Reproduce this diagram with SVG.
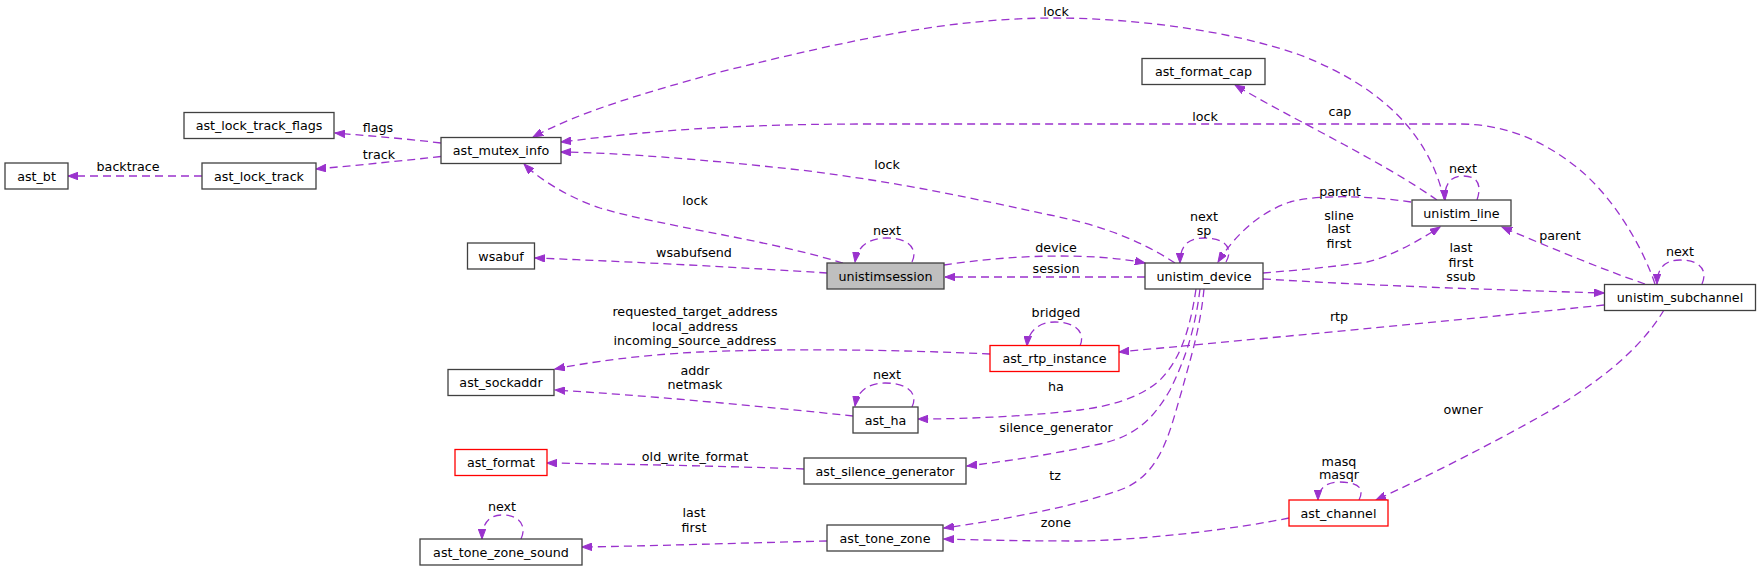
<svg xmlns="http://www.w3.org/2000/svg" width="1760" height="571" viewBox="0 0 1760 571">
<style>
.n rect{fill:#ffffff;stroke:#404040;stroke-width:1.3}
.n.red rect{stroke:#ff0000}
.n.root rect{fill:#bfbfbf}
text{font-family:"DejaVu Sans",sans-serif;font-size:12.7px;fill:#000;text-anchor:middle}
.e path{fill:none;stroke:#9a32cd;stroke-width:1.3;stroke-dasharray:8,5;marker-end:url(#ah)}
</style>
<defs>
<marker id="ah" markerWidth="11" markerHeight="8" refX="10" refY="3.75" orient="auto" markerUnits="userSpaceOnUse" viewBox="0 0 11 7.5">
<path d="M0,0 L10,3.75 L0,7.5 z" fill="#9a32cd" stroke="#9a32cd" stroke-width="1"/>
</marker>
</defs>
<rect width="1760" height="571" fill="#ffffff"/>
<g id="edges" class="e">
<path d="M202,176 L68,176"/>
<text x="128" y="171">backtrace</text>
<path d="M441,143 C 400,138 370,136 335,133"/>
<text x="378" y="132">flags</text>
<path d="M441,156.5 C 400,161 360,165 316,169"/>
<text x="379" y="159">track</text>
<path d="M843,263 C 760,238 660,226 600,208 C 570,198 540,180 524,164"/>
<text x="695" y="204.5">lock</text>
<path d="M1175,263 C 1140,240 1100,225 1050,215 C 980,200 900,182 800,170 C 700,159 620,153 561,152"/>
<text x="887" y="169">lock</text>
<path d="M1655,284 C 1640,240 1610,195 1580,170 C 1550,145 1510,124 1460,124 L 870,124 C 700,124 620,135 561,142"/>
<text x="1205" y="120.5">lock</text>
<path d="M1444,199 C 1430,140 1390,90 1300,55 C 1230,30 1130,18 1055,18 C 950,18 850,40 720,72 C 640,94 580,112 533,137"/>
<text x="1056" y="15.5">lock</text>
<path d="M1437,200 C 1380,160 1290,118 1235,85"/>
<text x="1340" y="115.5">cap</text>
<path d="M1411,202 C 1370,196 1320,194 1290,202 C 1260,212 1235,235 1218,262"/>
<text x="1340" y="195.5">parent</text>
<path d="M1263,273 C 1300,270 1340,266 1367,262 C 1390,257 1420,240 1440,227"/>
<text x="1339" y="219.5">sline</text>
<text x="1339" y="233">last</text>
<text x="1339" y="247.5">first</text>
<path d="M1226,262 C 1232,252 1230,238 1204,238 C 1186,238 1180,248 1180,263"/>
<text x="1204" y="220.5">next</text>
<text x="1204" y="235">sp</text>
<path d="M1263,279 C 1380,286 1500,290 1604,293"/>
<text x="1461" y="252">last</text>
<text x="1461" y="266.5">first</text>
<text x="1461" y="281">ssub</text>
<path d="M1645,284 C 1610,272 1560,252 1502,227"/>
<text x="1560" y="239.5">parent</text>
<path d="M1477,200 C 1482,185 1478,176 1463,176 C 1450,176 1444,185 1445,200"/>
<text x="1463" y="172.5">next</text>
<path d="M1702,284 C 1708,270 1700,260 1680,260 C 1665,260 1657,268 1657,284"/>
<text x="1680" y="256">next</text>
<path d="M1604,305 C 1480,318 1300,335 1119,352"/>
<text x="1339" y="321">rtp</text>
<path d="M1080,346 C 1086,332 1075,322 1055,322 C 1038,322 1028,332 1027,346"/>
<text x="1056" y="317">bridged</text>
<path d="M990,354 C 900,350 800,348 700,352 C 640,355 590,362 555,369"/>
<text x="695" y="316">requested_target_address</text>
<text x="695" y="331">local_address</text>
<text x="695" y="344.5">incoming_source_address</text>
<path d="M853,416 C 760,406 640,395 555,390"/>
<text x="695" y="375">addr</text>
<text x="695" y="388.5">netmask</text>
<path d="M912,407 C 918,395 910,383 885,383 C 866,383 857,393 855,406"/>
<text x="887" y="378.5">next</text>
<path d="M1196,289 C 1190,330 1180,360 1160,380 C 1140,398 1110,406 1080,410 C 1030,416 970,419 918,419"/>
<text x="1056" y="390.5">ha</text>
<path d="M1200,289 C 1195,330 1185,360 1170,390 C 1150,425 1130,437 1100,444 C 1050,455 1000,462 967,466"/>
<text x="1056" y="432">silence_generator</text>
<path d="M1204,289 C 1200,330 1190,360 1182,390 C 1170,430 1162,475 1120,490 C 1070,508 1000,520 944,528"/>
<text x="1055" y="480">tz</text>
<path d="M1289,518 C 1240,528 1150,540 1078,541 C 1020,541 980,540 944,539"/>
<text x="1056" y="527">zone</text>
<path d="M1664,310 C 1640,350 1600,380 1560,405 C 1500,440 1430,475 1376,500"/>
<text x="1463" y="413.5">owner</text>
<path d="M1359,500 C 1365,488 1358,482 1339,482 C 1325,482 1318,490 1318,500"/>
<text x="1339" y="465.5">masq</text>
<text x="1339" y="479">masqr</text>
<path d="M804,469 C 720,466 620,464 547,463"/>
<text x="695" y="460.5">old_write_format</text>
<path d="M827,541 C 740,543 650,546 582,547"/>
<text x="694" y="516.5">last</text>
<text x="694" y="531.5">first</text>
<path d="M521,539 C 527,526 520,515 502,515 C 488,515 482,525 482,539"/>
<text x="502" y="511">next</text>
<path d="M827,273 C 750,268 640,262 535,258"/>
<text x="694" y="257">wsabufsend</text>
<path d="M944,265 C 1010,255 1090,252 1145,263"/>
<text x="1056" y="252">device</text>
<path d="M1145,277 L945,277"/>
<text x="1056" y="273">session</text>
<path d="M912,262 C 918,250 910,238 887,238 C 867,238 857,248 855,262"/>
<text x="887" y="235">next</text>
</g>
<g id="node-ast_bt" class="n"><rect x="5" y="163" width="63" height="26"/><text x="36.5" y="180.5">ast_bt</text></g>
<g id="node-ast_lock_track" class="n"><rect x="202" y="163" width="114" height="26"/><text x="259" y="180.5">ast_lock_track</text></g>
<g id="node-ast_lock_track_flags" class="n"><rect x="184" y="112.5" width="150" height="26"/><text x="259" y="130">ast_lock_track_flags</text></g>
<g id="node-ast_mutex_info" class="n"><rect x="441" y="137.5" width="120" height="26"/><text x="501" y="155">ast_mutex_info</text></g>
<g id="node-wsabuf" class="n"><rect x="467.5" y="243" width="67" height="26"/><text x="501" y="260.5">wsabuf</text></g>
<g id="node-ast_sockaddr" class="n"><rect x="448" y="369.5" width="106" height="26"/><text x="501" y="387">ast_sockaddr</text></g>
<g id="node-ast_format" class="n red"><rect x="455" y="449.5" width="92" height="26"/><text x="501" y="467">ast_format</text></g>
<g id="node-ast_tone_zone_sound" class="n"><rect x="420" y="539" width="162" height="26"/><text x="501" y="556.5">ast_tone_zone_sound</text></g>
<g id="node-unistimsession" class="n root"><rect x="827" y="263" width="117" height="26"/><text x="885.5" y="280.5">unistimsession</text></g>
<g id="node-ast_ha" class="n"><rect x="853" y="407" width="65" height="26"/><text x="885.5" y="424.5">ast_ha</text></g>
<g id="node-ast_silence_generator" class="n"><rect x="804" y="458" width="162" height="26"/><text x="885" y="475.5">ast_silence_generator</text></g>
<g id="node-ast_tone_zone" class="n"><rect x="827" y="525" width="116" height="26"/><text x="885" y="542.5">ast_tone_zone</text></g>
<g id="node-ast_rtp_instance" class="n red"><rect x="990" y="345.5" width="129" height="26"/><text x="1054.5" y="363">ast_rtp_instance</text></g>
<g id="node-ast_format_cap" class="n"><rect x="1142" y="58.5" width="123" height="26"/><text x="1203.5" y="76">ast_format_cap</text></g>
<g id="node-unistim_device" class="n"><rect x="1145" y="263" width="118" height="26"/><text x="1204" y="280.5">unistim_device</text></g>
<g id="node-ast_channel" class="n red"><rect x="1289" y="500" width="99" height="26"/><text x="1338.5" y="517.5">ast_channel</text></g>
<g id="node-unistim_line" class="n"><rect x="1412" y="200" width="99" height="26"/><text x="1461.5" y="217.5">unistim_line</text></g>
<g id="node-unistim_subchannel" class="n"><rect x="1604.5" y="284.5" width="151" height="26"/><text x="1680" y="302">unistim_subchannel</text></g>
</svg>
